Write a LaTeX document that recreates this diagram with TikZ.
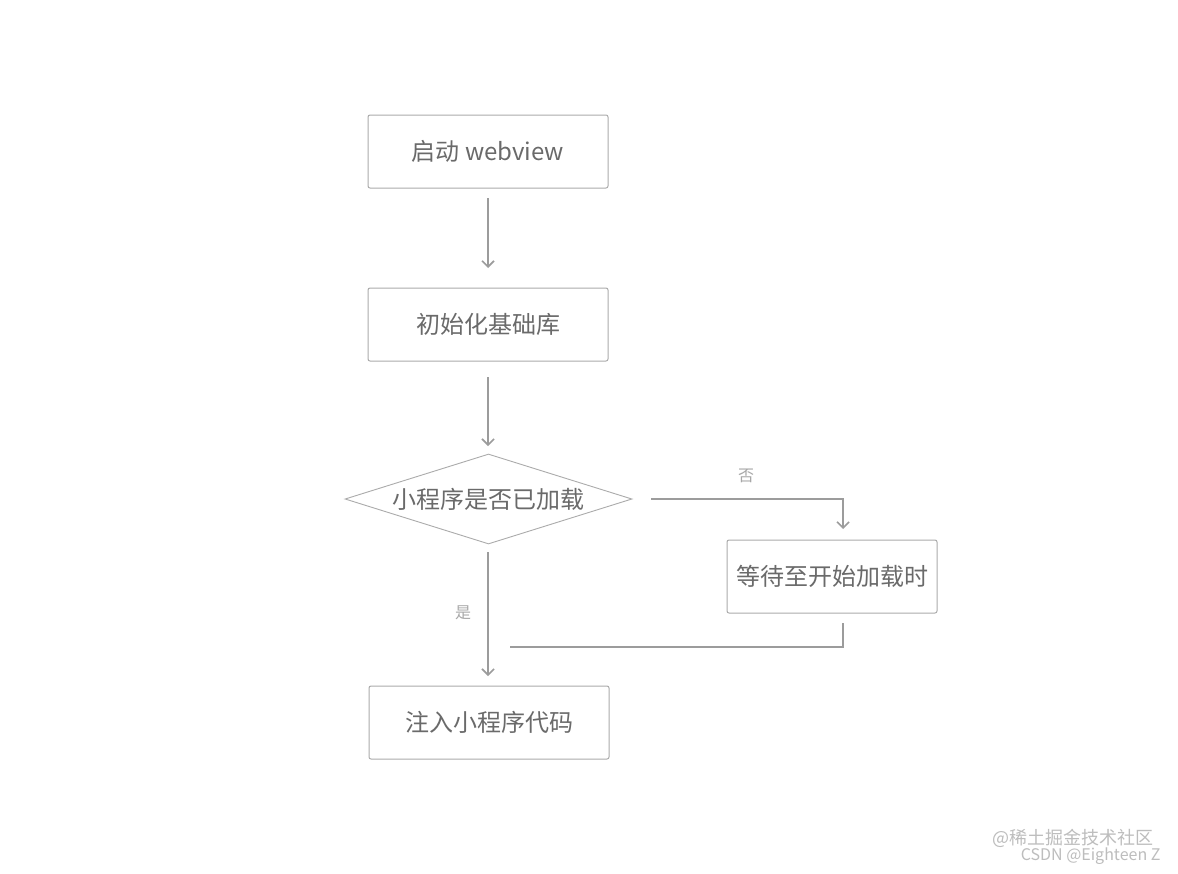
\documentclass[tikz,border=0pt]{standalone}
\usepackage{fontspec}
\setmainfont{Noto Sans CJK SC}
\newfontfamily\cjk{Noto Sans CJK SC}
\usetikzlibrary{shapes.geometric,arrows.meta}
\definecolor{boxline}{HTML}{ABABAB}
\definecolor{txt}{HTML}{6A6A6A}
\definecolor{arr}{HTML}{9C9C9C}
\definecolor{lbl}{HTML}{A8A8A8}
\definecolor{wm}{HTML}{BDBDBD}
\begin{document}
\begin{tikzpicture}[x=1pt,y=-1pt,
  procbox/.style={draw=boxline, line width=1pt, rounded corners=2pt, text=txt,
    font=\cjk\fontsize{24}{28}\selectfont, inner sep=0pt},
  decis/.style={draw=boxline, line width=0.9pt, diamond, aspect=3.19, text=txt,
    font=\cjk\fontsize{24}{28}\selectfont, inner sep=0pt, minimum width=287pt, minimum height=90pt},
  flow/.style={draw=arr, line width=1.6pt, -{Straight Barb[length=6pt,width=12pt,line width=1.6pt]}},
  plain/.style={draw=arr, line width=1.6pt},
  lab/.style={text=lbl, font=\cjk\fontsize{16}{19}\selectfont},
  wmark/.style={text=wm, anchor=east}
]
\useasboundingbox (0,0) rectangle (1178,873);
\fill[white] (0,0) rectangle (1178,873);

\node[procbox, minimum width=240pt, minimum height=73pt] (start) at (488,151.5) {启动 webview};
\node[procbox, minimum width=240pt, minimum height=73pt] (init) at (488,324.5) {初始化基础库};
\node[decis] (dec) at (488.5,499) {小程序是否已加载};
\node[procbox, minimum width=210pt, minimum height=73pt] (wait) at (832,576.5) {等待至开始加载时};
\node[procbox, minimum width=240pt, minimum height=73pt] (inject) at (489,722.5) {注入小程序代码};

\coordinate (a1s) at (488,198);
\coordinate (a1e) at (488,268);
\coordinate (a2s) at (488,377);
\coordinate (a2e) at (488,446);
\coordinate (nos) at (651,499);
\coordinate (noc) at (843,499);
\coordinate (noe) at (843,529);
\coordinate (yess) at (488,552);
\coordinate (yese) at (488,676);
\coordinate (bks) at (843,623);
\coordinate (bkc) at (843,647);
\coordinate (bke) at (510,647);

\draw[flow] (a1s) -- (a1e);
\draw[flow] (a2s) -- (a2e);
\draw[flow] (nos) -- (noc) -- (noe);
\draw[flow] (yess) -- (yese);
\draw[plain] (bks) -- (bkc) -- (bke);

\node[lab] (lno) at (746,476) {否};
\node[lab] (lyes) at (463,613) {是};

\node[wmark, font=\cjk\fontsize{18}{20}\selectfont] (wm1) at (1157,838) {@稀土掘金技术社区};
\node[wmark, font=\cjk\fontsize{16}{18}\selectfont] (wm2) at (1164,856) {CSDN @Eighteen Z};
\end{tikzpicture}
\end{document}
